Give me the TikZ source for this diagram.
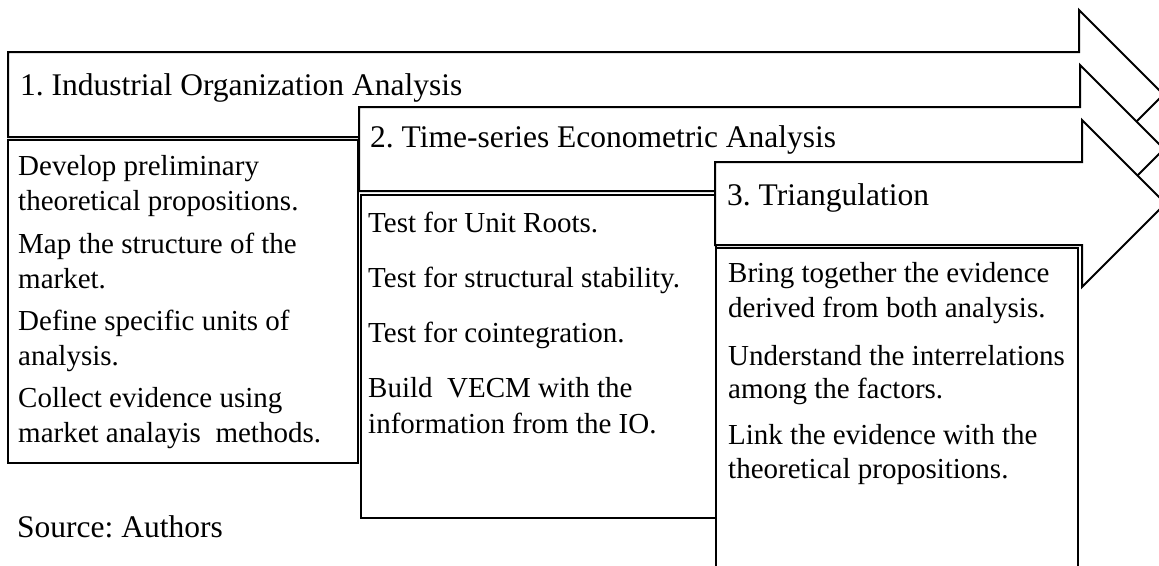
\documentclass[tikz,border=0pt]{standalone}
\usepackage{fontspec}
\setmainfont{Liberation Serif}
\frenchspacing
\begin{document}
\begin{tikzpicture}[x=1pt,y=-1pt,
  shapeline/.style={draw=black,line width=2pt,fill=white,line join=miter},
  headtext/.style={anchor=base west,inner sep=0pt,font=\fontsize{31.5}{36}\selectfont},
  bodytext/.style={anchor=base west,inner sep=0pt,font=\fontsize{29}{35}\selectfont}]
\useasboundingbox (0,0) rectangle (1159,565);
\clip (0,0) rectangle (1159,565);
\fill[white] (0,0) rectangle (1159,565);

% Arrow 1
\draw[shapeline] (8,52) -- (1079,52) -- (1079,10) -- (1163.5,94.5) -- (1079,179) -- (1079,137) -- (8,137) -- cycle;
\node[headtext] (h1) at (20,95) {1. Industrial Organization Analysis};
% Box 1
\draw[shapeline] (8,140) rectangle (358,463);
\node[bodytext] (b1a) at (18,175) {Develop preliminary};
\node[bodytext] (b1b) at (18,210) {theoretical propositions.};
\node[bodytext] (b1c) at (18,253) {Map the structure of the};
\node[bodytext] (b1d) at (18,288) {market.};
\node[bodytext] (b1e) at (18,330) {Define specific units of};
\node[bodytext] (b1f) at (18,365) {analysis.};
\node[bodytext] (b1g) at (18,407) {Collect evidence using};
\node[bodytext] (b1h) at (18,442) {market analayis\ \ methods.};

% Arrow 2
\draw[shapeline] (359,107) -- (1080,107) -- (1080,65) -- (1164,149) -- (1080,233) -- (1080,191) -- (359,191) -- cycle;
\node[headtext] (h2) at (370,147) {2. Time-series Econometric Analysis};
% Box 2
\draw[shapeline] (361,195) rectangle (716,518);
\node[bodytext] (b2a) at (368,232) {Test for Unit Roots.};
\node[bodytext] (b2b) at (368,287) {Test for structural stability.};
\node[bodytext] (b2c) at (368,342) {Test for cointegration.};
\node[bodytext] (b2d) at (368,397) {Build\ \ VECM with the};
\node[bodytext] (b2e) at (368,433) {information from the IO.};

% Arrow 3
\draw[shapeline] (715,162) -- (1082,162) -- (1082,120) -- (1165.5,203.5) -- (1082,287) -- (1082,245) -- (715,245) -- cycle;
\node[headtext] (h3) at (727,205) {3. Triangulation};
% Box 3
\draw[shapeline] (716,248) rectangle (1078,580);
\node[bodytext] (b3a) at (728,282) {Bring together the evidence};
\node[bodytext] (b3b) at (728,317) {derived from both analysis.};
\node[bodytext] (b3c) at (728,365) {Understand the interrelations};
\node[bodytext] (b3d) at (728,398) {among the factors.};
\node[bodytext] (b3e) at (728,444) {Link the evidence with the};
\node[bodytext] (b3f) at (728,478) {theoretical propositions.};

% Source
\node[headtext] (src) at (17,537) {Source: Authors};
\end{tikzpicture}
\end{document}
